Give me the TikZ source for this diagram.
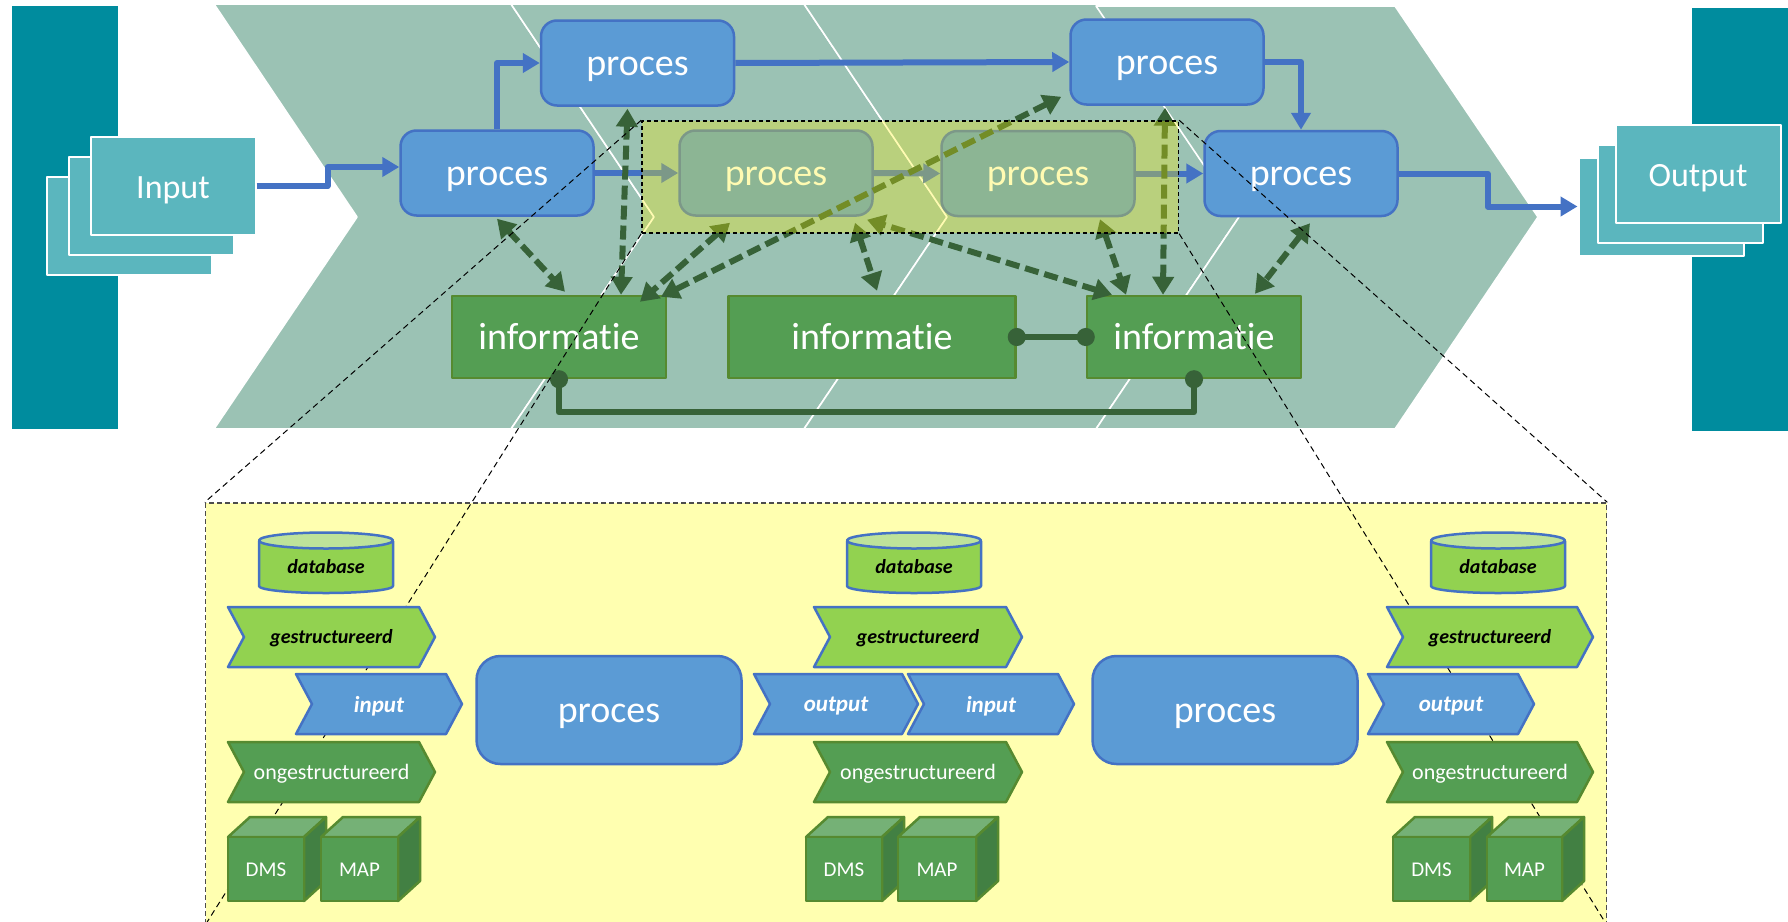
\documentclass[tikz,border=0pt]{standalone}
\usepackage{fontspec}
\setmainfont{Carlito}[Ligatures={NoCommon,NoRare,NoContextual},Contextuals=NoAlternate]
\usepackage{tikz}
\usetikzlibrary{arrows.meta,
                calc,
                positioning,}
\definecolor{tealbar}{HTML}{008C9E}
\definecolor{tealdoc}{HTML}{5BB6BE}
\definecolor{chevfill}{HTML}{9BC2B4}
\definecolor{blueline}{HTML}{4472C4}
\definecolor{bluefill}{HTML}{5B9BD5}
\definecolor{greenfill}{HTML}{549E53}
\definecolor{greenline}{HTML}{568A30}
\definecolor{darkflow}{HTML}{376238}
\definecolor{limefill}{HTML}{92D250}
\definecolor{limetop}{HTML}{BEE39A}
\definecolor{cubetop}{HTML}{75B176}
\definecolor{cubeside}{HTML}{428043}
\definecolor{paleyellow}{HTML}{FFFFB0}
\tikzset{
  docbox/.style={draw=white,line width=2pt,fill=tealdoc,minimum width=165pt,minimum height=98pt,inner sep=0pt,text=white,text height=24pt,text depth=0pt,font=\fontsize{34}{34}\selectfont},
  procbox/.style={draw=blueline,line width=2.5pt,fill=bluefill,rounded corners=16pt,minimum width=193pt,minimum height=85pt,inner sep=0pt,text=white,text height=24pt,text depth=0pt,font=\fontsize{38}{38}\selectfont},
  bigproc/.style={procbox,rounded corners=24pt,minimum width=265pt,minimum height=108pt,font=\fontsize{38}{38}\selectfont},
  infobox/.style={draw=greenline,line width=2.5pt,fill=greenfill,minimum height=82pt,inner sep=0pt,text=white,font=\fontsize{38}{38}\selectfont},
  blueflow/.style={draw=blueline,line width=6pt,-{Triangle[length=17pt,width=19pt]}},
  dataflow/.style={draw=darkflow,line width=6pt,dash pattern=on 14pt off 6pt,{Triangle[length=18pt,width=21pt]}-{Triangle[length=18pt,width=21pt]}},
  dotlink/.style={draw=darkflow,line width=6pt,{Circle[length=18pt]}-{Circle[length=18pt]},shorten <=-9pt,shorten >=-9pt},
  zoomline/.style={draw=black,line width=1pt,dash pattern=on 6pt off 4pt},
  chevline/.style={draw=white,line width=1.6pt,fill=chevfill},
  gestbox/.style={draw=blueline,line width=2.5pt,fill=limefill},
  gesttxt/.style={text=black,yshift=-1pt,font=\fontsize{20}{20}\selectfont\bfseries\itshape},
  flowbox/.style={draw=blueline,line width=2.5pt,fill=bluefill},
  flowtxt/.style={text=white,yshift=-2pt,font=\fontsize{23}{23}\selectfont\bfseries\itshape},
  ongebox/.style={draw=greenline,line width=2.5pt,fill=greenfill},
  ongetxt/.style={text=white,yshift=-2pt,font=\fontsize{22}{22}\selectfont},
}
% chevron with its text: name, left, tip, top, style, text
\newcommand{\chevbox}[6]{%
\draw[#5box] (#2,#4) -- (#3-16,#4) -- (#3,#4+30) -- (#3-16,#4+60) -- (#2,#4+60) -- (#2+16,#4+30) -- cycle;
\node[#5txt,inner sep=0pt] (#1) at ({(#2+#3)/2},#4+30) {#6};}
% database can: name, centre, half width
\newcommand{\dbcan}[3]{%
\draw[gestbox] (#2-#3,541) -- (#2-#3,586) arc (180:360:#3pt and 7pt) -- (#2+#3,541) -- cycle;
\draw[gestbox,fill=limetop] (#2,540.5) ellipse (#3pt and 8pt);
\node[gesttxt,inner sep=0pt] (#1) at (#2,566) {database};}
% block: name, front left, front right, text
\newcommand{\cubebox}[4]{%
\draw[ongebox,fill=cubetop] (#2,837) -- (#2+22,817) -- (#3+22,817) -- (#3,837) -- cycle;
\draw[ongebox,fill=cubeside] (#3,837) -- (#3+22,817) -- (#3+22,881) -- (#3,901) -- cycle;
\draw[ongebox] (#2,837) rectangle (#3,901);
\node[text=white,inner sep=0pt,font=\fontsize{21}{21}\selectfont] (#1) at ({(#2+#3)/2},870) {#4};}

\begin{document}
\begin{tikzpicture}[line join=round,x=1pt,y=-1pt]
\useasboundingbox (0,0) rectangle (1788,921);
\clip (0,0) rectangle (1788,921);
\fill[tealbar] (12,6) rectangle (118,429);
\fill[tealbar] (1692,8) rectangle (1788,431);
\foreach \xa/\xb/\yt in {214/511/4,511/804/4,804/1096/4,1096/1395/6}
\draw[chevline] (\xa,\yt) -- (\xb,\yt) -- (\xb+143,217) -- (\xb,429) -- (\xa,429) -- (\xa+143,217) -- cycle;
% input and output
\node[docbox] (inC) at (129,225.5) {};
\node[docbox] (inB) at (151,205.5) {};
\node[docbox] (inA) at (173,186) {Input};
\node[docbox] (outC) at (1661,206.5) {};
\node[docbox] (outB) at (1680.5,193.5) {};
\node[docbox] (outA) at (1698,174) {Output};
% processes
\node[procbox] (p1) at (637.5,63) {proces};
\node[procbox] (p2) at (497,173) {proces};
\node[procbox] (p3) at (776,173) {proces};
\node[procbox] (p4) at (1038,173.5) {proces};
\node[procbox] (p5) at (1167,62) {proces};
\node[procbox] (p6) at (1301,173.5) {proces};
% information
\node[infobox,minimum width=214pt] (i1) at (559,337) {informatie};
\node[infobox,minimum width=287pt] (i2) at (872,337) {informatie};
\node[infobox,minimum width=214pt] (i3) at (1194,337) {informatie};
% process flow
\draw[blueflow] (inA.east) -- ++(71,0) |- ([yshift=6]p2.west);
\draw[blueflow] (p2.north) |- (p1.west);
\draw[blueflow] (p1.east) -- (p5.west);
\draw[blueflow] (p5.east) -| (p6.north);
\draw[blueflow] (p2.east) -- (p3.west);
\draw[blueflow] (p3.east) -- (p4.west);
\draw[blueflow] (p4.east) -- (p6.west);
\draw[blueflow] (p6.east) -- ++(89,0) |- (outC.west);
% information flow
\draw[dataflow] ([yshift=-2]p2.south) -- ([xshift=6,yshift=3]i1.north);
\draw[dataflow] ([xshift=-10,yshift=-2]p1.south) -- ([xshift=62]i1.north);
\draw[dataflow] ([xshift=-46,yshift=-6]p3.south) -- ([xshift=81,yshift=-7]i1.north);
\draw[dataflow] ([xshift=102,yshift=-2]i1.north) -- ([xshift=-8,yshift=9]p5.south west);
\draw[dataflow] ([xshift=79,yshift=-6]p3.south) -- ([xshift=5,yshift=4]i2.north);
\draw[dataflow] ([xshift=-82]i3.north) -- ([xshift=91,yshift=-3]p3.south);
\draw[dataflow] ([xshift=62,yshift=-2]p4.south) -- ([xshift=-68]i3.north);
\draw[dataflow] ([xshift=-2,yshift=-2]p5.south) -- ([xshift=-31]i3.north);
\draw[dataflow] ([xshift=9,yshift=-6]p6.south) -- ([xshift=61,yshift=1]i3.north);
\draw[dotlink] (i2.east) -- (i3.west);
\draw[dotlink] (i1.south) -- ++(0,33) -| (i3.south);
% highlight over the middle processes
\node[draw=black,line width=1.5pt,dash pattern=on 4pt off 3pt,fill=yellow,fill opacity=0.3,draw opacity=1,minimum width=536.5pt,minimum height=112pt,inner sep=0pt] (hl) at (910.2,177) {};
% enlarged part
\node[draw=black!70,line width=1.5pt,dash pattern=on 5pt off 3pt,fill=paleyellow,minimum width=1401pt,minimum height=422pt,inner sep=0pt] (zoomb) at (906,714) {};
\draw[zoomline] (hl.north west) -- (zoomb.north west);
\draw[zoomline] (hl.south west) -- (zoomb.south west);
\draw[zoomline] (hl.north east) -- (zoomb.north east);
\draw[zoomline] (hl.south east) -- (zoomb.south east);
\node[bigproc] (bp1) at (609,710) {proces};
\node[bigproc] (bp2) at (1225,710) {proces};
% left
\dbcan{dbA}{326}{67}
\chevbox{gestA}{228}{435}{607}{gest}{gestructureerd}
\chevbox{inpA}{296}{462}{674}{flow}{input}
\chevbox{ongeA}{228}{435}{742}{onge}{ongestructureerd}
\cubebox{dmsA}{228}{304}{DMS}
\cubebox{mapA}{321}{398}{MAP}
% middle
\dbcan{dbB}{914}{67}
\chevbox{gestB}{814}{1022}{607}{gest}{gestructureerd}
\chevbox{outB2}{754}{918}{674}{flow}{output}
\chevbox{inpB}{908}{1074}{674}{flow}{input}
\chevbox{ongeB}{814}{1022}{742}{onge}{ongestructureerd}
\cubebox{dmsB}{806}{882}{DMS}
\cubebox{mapB}{898}{976}{MAP}
% right
\dbcan{dbC}{1498}{67}
\chevbox{gestC}{1387}{1593}{607}{gest}{gestructureerd}
\chevbox{outC2}{1368}{1534}{674}{flow}{output}
\chevbox{ongeC}{1387}{1593}{742}{onge}{ongestructureerd}
\cubebox{dmsC}{1393}{1470}{DMS}
\cubebox{mapC}{1487}{1562}{MAP}
\end{tikzpicture}
\end{document}
